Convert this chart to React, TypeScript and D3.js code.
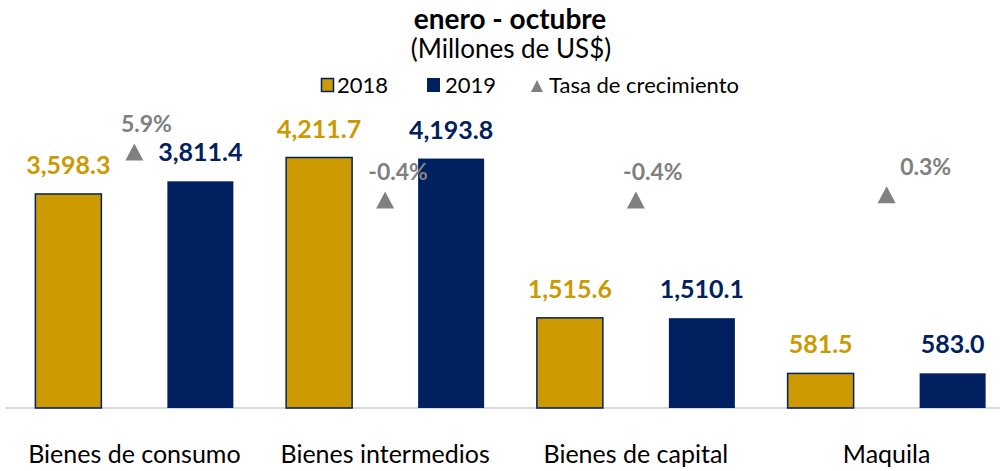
import React from "react";
import * as d3 from "d3";

const categories = ["Bienes de consumo", "Bienes intermedios", "Bienes de capital", "Maquila"];
const values2018 = [3598.3, 4211.7, 1515.6, 581.5];
const values2019 = [3811.4, 4193.8, 1510.1, 583.0];
const growth = [5.9, -0.4, -0.4, 0.3];
const legendLabels = ["2018", "2019", "Tasa de crecimiento"];

const W = 1003;
const H = 471;
const GOLD = "#CC9900";
const NAVY = "#002060";
const GRAY = "#808080";
const FONT = "Lato, 'Open Sans', sans-serif";

export default function App() {
  const x = d3.scaleBand<string>().domain(categories).range([9, 1012]).padding(0);
  const y = d3.scaleLinear().domain([0, 4211.7]).range([408, 157.5]);
  const y2 = d3.scaleLinear().domain([-0.4, 5.9]).range([200, 152]);
  const fmt = d3.format(",.1f");
  const pct = (v: number) => d3.format(".1f")(v).replace("\u2212", "-") + "%";
  const barW = 66;
  const off = 66;
  const labelDx = [12, 13, 17, 39];

  return (
    <svg width={W} height={H} style={{ position: "absolute", left: 0, top: 0 }} fontFamily={FONT}>
      <rect width={W} height={H} fill="#fff" />
      <text x={510} y={29} textAnchor="middle" fontSize={28} fontWeight="bold" fill="#000">enero - octubre</text>
      <text x={511} y={58} textAnchor="middle" fontSize={26} fill="#000">(Millones de US$)</text>
      {/* legend */}
      <rect x={321.5} y={78.5} width={12} height={13} fill={GOLD} stroke={NAVY} strokeWidth={1.5} />
      <text x={337} y={93} fontSize={22} fill="#000">{legendLabels[0]}</text>
      <rect x={427} y={78} width={13} height={14} fill={NAVY} />
      <text x={445} y={93} fontSize={22} fill="#000">{legendLabels[1]}</text>
      <path d="M531,92 L543,92 L537,80 Z" fill={GRAY} />
      <text x={549} y={93} fontSize={22} fill="#000">{legendLabels[2]}</text>

      <line x1={5} x2={1000} y1={408} y2={408} stroke="#d9d9d9" strokeWidth={2} />

      {categories.map((c, i) => {
        const cx = (x(c) as number) + x.bandwidth() / 2;
        const v1 = values2018[i];
        const v2 = values2019[i];
        const ty = y2(growth[i]);
        return (
          <g key={c}>
            <rect x={cx - off - barW / 2} y={y(v1)} width={barW} height={408 - y(v1)} fill={GOLD} stroke={NAVY} strokeWidth={1.5} />
            <rect x={cx + off - barW / 2} y={y(v2)} width={barW} height={408 - y(v2)} fill={NAVY} />
            <text x={cx - off} y={y(v1) - 20} textAnchor="middle" fontSize={25} fontWeight="bold" fill={GOLD}>{fmt(v1)}</text>
            <text x={cx + off} y={y(v2) - 20} textAnchor="middle" fontSize={25} fontWeight="bold" fill={NAVY}>{fmt(v2)}</text>
            <path d={`M${cx - 9},${ty + 8.5} L${cx + 9},${ty + 8.5} L${cx},${ty - 8.5} Z`} fill={GRAY} />
            <text x={cx + labelDx[i]} y={ty - 20} textAnchor="middle" fontSize={23} fontWeight="bold" fill={GRAY}>{pct(growth[i])}</text>
            <text x={cx} y={463} textAnchor="middle" fontSize={25} fill="#000">{c}</text>
          </g>
        );
      })}
    </svg>
  );
}
